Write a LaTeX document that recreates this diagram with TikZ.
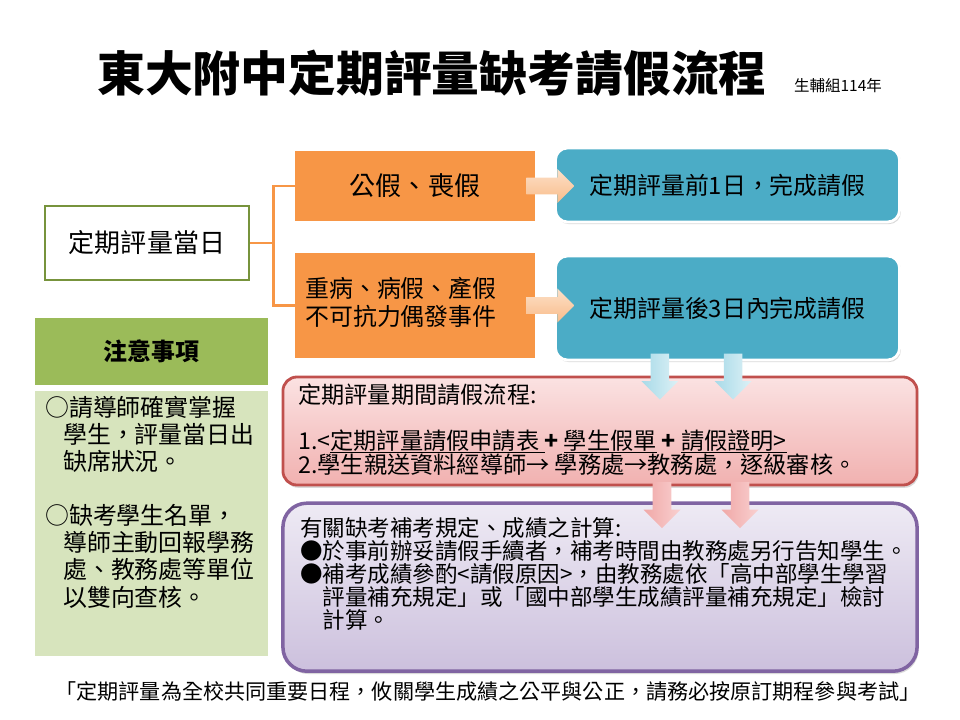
\documentclass[tikz,border=0pt]{standalone}
\usepackage{fontspec}
\setmainfont{Noto Sans CJK TC}
\usetikzlibrary{positioning,shapes.arrows,shadows}
\definecolor{orfill}{HTML}{F79646}
\definecolor{bluefill}{HTML}{4BACC6}
\definecolor{greenline}{HTML}{77933C}
\definecolor{greenhead}{HTML}{9BBB59}
\definecolor{greenbody}{HTML}{D7E4BD}
\definecolor{redline}{HTML}{C0504D}
\definecolor{redtop}{HTML}{FBE2E2}
\definecolor{redbottom}{HTML}{F1B1B0}
\definecolor{purpleline}{HTML}{8064A2}
\definecolor{purpletop}{HTML}{EEEAF4}
\definecolor{purplebottom}{HTML}{CCC0DD}
\definecolor{ortop}{HTML}{FCE0C8}
\definecolor{orbottom}{HTML}{F9BC8A}
\definecolor{cyanlight}{HTML}{DDF1F6}
\definecolor{cyandark}{HTML}{A8DAE8}
\definecolor{pinklight}{HTML}{F9D0D0}
\definecolor{pinkdark}{HTML}{F0A8A7}
\newcommand\fs[2]{\fontsize{#1}{#2}\selectfont}
\newcommand\fline[1]{\setbox0\hbox{#1}\rlap{\smash{\rule[-2.5pt]{\wd0}{0.7pt}}}\box0}

\begin{document}
\begin{tikzpicture}[x=0.025cm, y=-0.025cm,
    every node/.style={inner sep=0pt},
    orbox/.style={fill=orfill, minimum width=6cm, font=\fs{18.5}{22}},
    bluebox/.style={fill=bluefill, draw=white, line width=2pt, rounded corners=0.3cm,
        minimum width=8.6cm, font=\fs{17}{20},
        drop shadow={opacity=0.3, shadow xshift=1pt, shadow yshift=-1.5pt}},
    flowbox/.style={line width=2pt, minimum width=15.85cm,
        drop shadow={opacity=0.3, shadow xshift=1pt, shadow yshift=-2pt}},
    orarrow/.style={single arrow, inner ysep=0.2cm, single arrow head extend=0.22cm,
        minimum height=1.2cm, top color=ortop, bottom color=orbottom},
    downarrow/.style={single arrow, rotate=-90, inner ysep=0.225cm,
        single arrow head extend=0.23cm, minimum height=1.15cm},
    orline/.style={draw=orfill, line width=2pt}]
    \useasboundingbox (0,0) rectangle (960,720);

    % title
    \node[anchor=west, font=\fs{34}{40}\bfseries] (title) at (97,73) {東大附中定期評量缺考請假流程};
    \node[base right=0.675cm of title, font=\fs{11}{13}] (unit) {生輔組114年};

    % exam day and leave types
    \node[draw=greenline, line width=2pt, minimum width=5.1cm, minimum height=1.85cm,
        font=\fs{18.5}{22}] (day) at (147,243) {定期評量當日};
    \node[orbox, minimum height=1.75cm] (leave1) at (415,186) {公假、喪假};
    \node[orbox, minimum height=2.625cm] (leave2) at (415,305.5) {};
    \node[anchor=west, align=left, font=\fs{17}{20}] (leave2text) at (305,302)
        {重病、病假、產假\\不可抗力偶發事件};
    \draw[orline] (day.east) -- ++(23,0) coordinate (fork) |- (leave1.west);
    \draw[orline] (fork) |- (leave2.west);

    \node[bluebox, minimum height=1.85cm] (ahead) at (727.5,185) {定期評量前1日，完成請假};
    \node[bluebox, minimum height=2.6cm] (after) at (727.5,308) {定期評量後3日內完成請假};
    \node[orarrow] (go1) at ([xshift=0.275cm]leave1.east) {};
    \node[orarrow] (go2) at ([xshift=0.275cm]leave2.east) {};

    % flow boxes
    \node[flowbox, draw=redline, top color=redtop, bottom color=redbottom,
        rounded corners=0.35cm, minimum height=2.7cm] (process) at (600,431) {};
    \node[anchor=west, align=left, font=\fs{16.5}{17}] (processtext) at (298,430)
        {定期評量期間請假流程:\\[15.6pt]
        1.<\fline{定期評量請假申請表\ }\textbf{+}\ \fline{學生假單}\ \textbf{+}\ \fline{請假證明>}\\
        2.學生親送資料經導師→ 學務處→教務處，逐級審核。};
    \node[flowbox, draw=purpleline, top color=purpletop, bottom color=purplebottom,
        line width=2.5pt, rounded corners=0.6cm, minimum height=4.2cm,
        below=0.375cm of process] (makeup) {};
    \node[anchor=west, align=left, font=\fs{16}{16.3}] (makeuptext) at (300,574)
        {有關缺考補考規定、成績之計算:\\
        ●於事前辦妥請假手續者，補考時間由教務處另行告知學生。\\
        ●補考成績參酌<請假原因>，由教務處依「高中部學生學習\\
        \phantom{●}評量補充規定」或「國中部學生成績評量補充規定」檢討\\
        \phantom{●}計算。};

    \node[downarrow, left color=cyandark, right color=cyanlight] (down1) at ([xshift=-1.69cm, yshift=-0.2625cm]after.south) {};
    \node[downarrow, left color=cyandark, right color=cyanlight] (down2) at ([xshift=0.14cm, yshift=-0.2625cm]after.south) {};
    \node[downarrow, left color=pinkdark, right color=pinklight] (down3) at ([xshift=1.55cm, yshift=-0.35cm]process.south) {};
    \node[downarrow, left color=pinkdark, right color=pinklight] (down4) at ([xshift=3.5cm, yshift=-0.35cm]process.south) {};

    % notes
    \node[fill=greenhead, minimum width=5.825cm, minimum height=1.675cm,
        font=\fs{17}{20}\bfseries] (notehead) at (151.5,351.5) {注意事項};
    \node[fill=greenbody, minimum width=5.825cm, minimum height=6.625cm,
        below=0.125cm of notehead] (notebody) {};
    \node[anchor=west, align=left, font=\fs{17}{19.3}] (notetext) at (45,502)
        {○請導師確實掌握\\\hspace*{0.75em}學生，評量當日出\\\hspace*{0.75em}缺席狀況。\\[19.3pt]
        ○缺考學生名單，\\\hspace*{0.75em}導師主動回報學務\\\hspace*{0.75em}處、教務處等單位\\
        \hspace*{0.75em}以雙向查核。};

    \node[font=\fs{15}{18}] (motto) at (488,692)
        {「定期評量為全校共同重要日程，攸關學生成績之公平與公正，請務必按原訂期程參與考試」};
\end{tikzpicture}
\end{document}
